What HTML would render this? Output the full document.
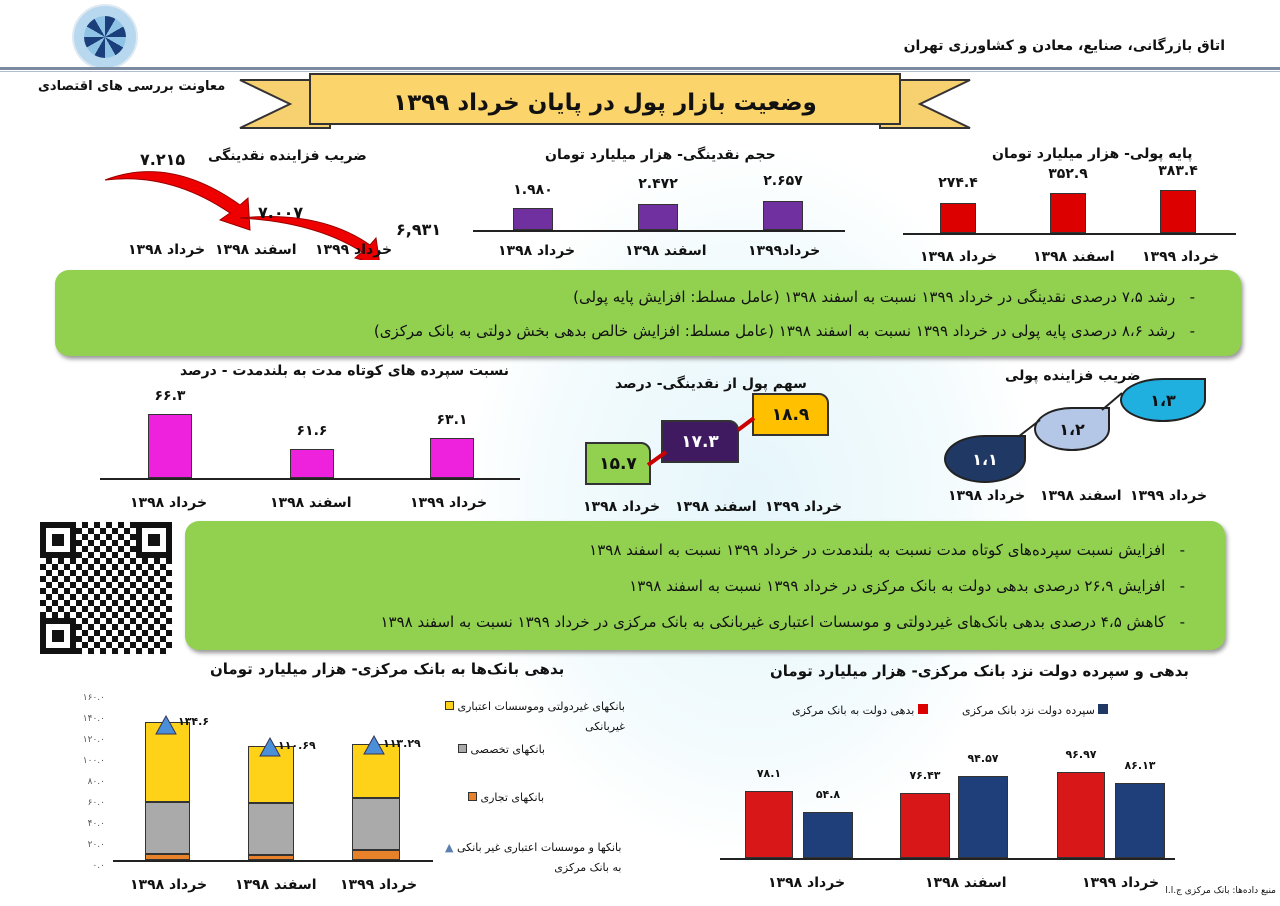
<!DOCTYPE html>
<html><head><meta charset="utf-8"><style>
*{margin:0;padding:0;box-sizing:border-box}
body{width:1280px;height:906px;background:#fff;position:relative;overflow:hidden;font-family:"DejaVu Sans","Liberation Sans",sans-serif;font-weight:bold;color:#111}
.a{position:absolute}
.t{position:absolute;white-space:nowrap;direction:rtl;font-size:14px}
.c{text-align:center}
.ax{position:absolute;height:2px;background:#222}
.bar{position:absolute;border:1px solid #333}
.green{position:absolute;background:#92d050;border-radius:14px;box-shadow:2px 3px 4px #999}
.g{font-size:15px;font-weight:normal;color:#111}
.drop{position:absolute;border:2px solid #222;border-radius:50% 0 50% 50%;color:#fff;font-size:16px;display:flex;align-items:center;justify-content:center}
.box{position:absolute;border:2px solid #333;border-radius:0 10px 0 0;display:flex;align-items:center;justify-content:center;font-size:17px}
</style></head><body>
<div class="a" style="left:470px;top:150px;width:560px;height:700px;background:radial-gradient(ellipse at center,#e6f6fb 0%,#f3fbfd 50%,#fff 72%)"></div>
<div class="a" style="left:72px;top:4px;width:66px;height:66px;border-radius:50%;background:#b8d8ef;border:2px solid #dfe9f2"></div>
<div class="a" style="left:84px;top:16px;width:42px;height:42px;border-radius:50%;background:conic-gradient(#1b3f7a 0 30deg,#8fc3e6 30deg 60deg,#1b3f7a 60deg 90deg,#8fc3e6 90deg 120deg,#1b3f7a 120deg 150deg,#8fc3e6 150deg 180deg,#1b3f7a 180deg 210deg,#8fc3e6 210deg 240deg,#1b3f7a 240deg 270deg,#8fc3e6 270deg 300deg,#1b3f7a 300deg 330deg,#8fc3e6 330deg 360deg)"></div>
<div class="t" style="right:55px;top:38px;font-size:14px">اتاق بازرگانی، صنایع، معادن و کشاورزی تهران</div>
<div class="a" style="left:0;top:67px;width:1280px;height:3px;background:#7a8aa0"></div>
<div class="a" style="left:0;top:71px;width:1280px;height:1px;background:#b0bccc"></div>
<div class="t" style="left:38px;top:79px;font-size:13px">معاونت بررسی های اقتصادی</div>
<svg class="a" style="left:230px;top:70px" width="750" height="70">
<polygon points="10,10 100,10 100,58 10,58 60,34" fill="#f7d070" stroke="#333" stroke-width="2"/>
<polygon points="740,10 650,10 650,58 740,58 690,34" fill="#f7d070" stroke="#333" stroke-width="2"/>
<rect x="80" y="4" width="590" height="50" fill="#fbd46b" stroke="#333" stroke-width="2"/>
</svg>
<div class="t c" style="left:310px;top:90px;width:590px;font-size:23px">وضعیت بازار پول در پایان خرداد ۱۳۹۹</div>

<div class="t" style="left:208px;top:148px">ضریب فزاینده نقدینگی</div>
<svg class="a" style="left:100px;top:150px" width="300" height="110">
<path d="M5 30 Q70 5 140 55 L148 48 L150 80 L120 70 L130 63 Q70 22 5 30Z" fill="#e00" stroke="#900"/>
<path d="M140 68 Q220 60 270 95 L276 88 L280 115 L255 108 L262 102 Q215 72 140 68Z" fill="#e00" stroke="#900"/>
</svg>
<div class="t" style="left:140px;top:150px;font-size:16px">۷.۲۱۵</div>
<div class="t" style="left:258px;top:203px;font-size:16px">۷.۰۰۷</div>
<div class="t" style="left:396px;top:220px;font-size:16px">۶,۹۳۱</div>
<div class="t" style="left:128px;top:242px">خرداد ۱۳۹۸</div>
<div class="t" style="left:215px;top:242px">اسفند ۱۳۹۸</div>
<div class="t" style="left:315px;top:242px">خرداد ۱۳۹۹</div>

<div class="t" style="left:545px;top:147px">حجم نقدینگی- هزار میلیارد تومان</div>
<div class="ax" style="left:473px;top:230px;width:372px"></div>
<div class="bar" style="left:513px;top:208px;width:40px;height:22px;background:#7030a0"></div>
<div class="bar" style="left:638px;top:204px;width:40px;height:26px;background:#7030a0"></div>
<div class="bar" style="left:763px;top:201px;width:40px;height:29px;background:#7030a0"></div>
<div class="t c" style="left:503px;top:182px;width:60px">۱.۹۸۰</div>
<div class="t c" style="left:628px;top:176px;width:60px">۲.۴۷۲</div>
<div class="t c" style="left:753px;top:173px;width:60px">۲.۶۵۷</div>
<div class="t" style="left:498px;top:243px">خرداد ۱۳۹۸</div>
<div class="t" style="left:625px;top:243px">اسفند ۱۳۹۸</div>
<div class="t" style="left:748px;top:243px">خرداد۱۳۹۹</div>

<div class="t" style="left:992px;top:146px">پایه پولی- هزار میلیارد تومان</div>
<div class="ax" style="left:903px;top:233px;width:333px"></div>
<div class="bar" style="left:940px;top:203px;width:36px;height:30px;background:#d00"></div>
<div class="bar" style="left:1050px;top:193px;width:36px;height:40px;background:#d00"></div>
<div class="bar" style="left:1160px;top:190px;width:36px;height:43px;background:#d00"></div>
<div class="t c" style="left:928px;top:175px;width:60px">۲۷۴.۴</div>
<div class="t c" style="left:1038px;top:166px;width:60px">۳۵۲.۹</div>
<div class="t c" style="left:1148px;top:163px;width:60px">۳۸۳.۴</div>
<div class="t" style="left:920px;top:249px">خرداد ۱۳۹۸</div>
<div class="t" style="left:1033px;top:249px">اسفند ۱۳۹۸</div>
<div class="t" style="left:1142px;top:249px">خرداد ۱۳۹۹</div>

<div class="green" style="left:55px;top:270px;width:1186px;height:86px"></div>
<div class="t g" style="left:540px;top:288px;width:655px">-&nbsp;&nbsp; رشد ۷،۵ درصدی نقدینگی در خرداد ۱۳۹۹ نسبت به اسفند ۱۳۹۸ (عامل مسلط: افزایش پایه پولی)</div>
<div class="t g" style="left:340px;top:322px;width:855px">-&nbsp;&nbsp; رشد ۸،۶ درصدی پایه پولی در خرداد ۱۳۹۹ نسبت به اسفند ۱۳۹۸ (عامل مسلط: افزایش خالص بدهی بخش دولتی به بانک مرکزی)</div>

<div class="t" style="left:180px;top:363px">نسبت سپرده های کوتاه مدت به بلندمدت - درصد</div>
<div class="ax" style="left:100px;top:478px;width:420px"></div>
<div class="bar" style="left:148px;top:414px;width:44px;height:64px;background:#ee22dd"></div>
<div class="bar" style="left:290px;top:449px;width:44px;height:29px;background:#ee22dd"></div>
<div class="bar" style="left:430px;top:438px;width:44px;height:40px;background:#ee22dd"></div>
<div class="t c" style="left:140px;top:388px;width:60px">۶۶.۳</div>
<div class="t c" style="left:282px;top:423px;width:60px">۶۱.۶</div>
<div class="t c" style="left:422px;top:412px;width:60px">۶۳.۱</div>
<div class="t" style="left:130px;top:495px">خرداد ۱۳۹۸</div>
<div class="t" style="left:270px;top:495px">اسفند ۱۳۹۸</div>
<div class="t" style="left:410px;top:495px">خرداد ۱۳۹۹</div>

<div class="t" style="left:615px;top:376px">سهم پول از نقدینگی- درصد</div>
<div class="box" style="left:585px;top:442px;width:66px;height:43px;background:#92d050">۱۵.۷</div>
<div class="box" style="left:661px;top:420px;width:78px;height:43px;background:#3f1a60;color:#fff">۱۷.۳</div>
<div class="box" style="left:752px;top:393px;width:77px;height:43px;background:#ffc000">۱۸.۹</div>
<svg class="a" style="left:640px;top:400px" width="120" height="70"><line x1="8" y1="65" x2="26" y2="52" stroke="#c00" stroke-width="4"/><line x1="98" y1="30" x2="114" y2="18" stroke="#c00" stroke-width="4"/></svg>
<div class="t" style="left:583px;top:499px">خرداد ۱۳۹۸</div>
<div class="t" style="left:675px;top:499px">اسفند ۱۳۹۸</div>
<div class="t" style="left:765px;top:499px">خرداد ۱۳۹۹</div>

<div class="t" style="left:1005px;top:368px">ضریب فزاینده پولی</div>
<div class="drop" style="left:944px;top:435px;width:82px;height:48px;background:#1f3864">۱،۱</div>
<div class="drop" style="left:1034px;top:407px;width:76px;height:44px;background:#b4c7e7;color:#111">۱،۲</div>
<div class="drop" style="left:1120px;top:378px;width:86px;height:44px;background:#1fb0e0;color:#111">۱،۳</div>
<svg class="a" style="left:1010px;top:385px" width="120" height="60"><line x1="8" y1="52" x2="30" y2="35" stroke="#222" stroke-width="2"/><line x1="92" y1="25" x2="112" y2="8" stroke="#222" stroke-width="2"/></svg>
<div class="t" style="left:948px;top:488px">خرداد ۱۳۹۸</div>
<div class="t" style="left:1040px;top:488px">اسفند ۱۳۹۸</div>
<div class="t" style="left:1130px;top:488px">خرداد ۱۳۹۹</div>

<div class="a" style="left:40px;top:522px;width:132px;height:132px;background:repeating-conic-gradient(#111 0 25%,#fff 0 50%) 0 0/12px 12px"></div>
<div class="a" style="left:40px;top:522px;width:36px;height:36px;border:6px solid #111;background:#fff;box-shadow:inset 0 0 0 6px #fff,inset 0 0 0 20px #111"></div>
<div class="a" style="left:136px;top:522px;width:36px;height:36px;border:6px solid #111;background:#fff;box-shadow:inset 0 0 0 6px #fff,inset 0 0 0 20px #111"></div>
<div class="a" style="left:40px;top:618px;width:36px;height:36px;border:6px solid #111;background:#fff;box-shadow:inset 0 0 0 6px #fff,inset 0 0 0 20px #111"></div>

<div class="green" style="left:185px;top:521px;width:1040px;height:129px"></div>
<div class="t g" style="left:565px;top:541px;width:620px">-&nbsp;&nbsp; افزایش نسبت سپرده‌های کوتاه مدت نسبت به بلندمدت در خرداد ۱۳۹۹ نسبت به اسفند ۱۳۹۸</div>
<div class="t g" style="left:590px;top:577px;width:595px">-&nbsp;&nbsp; افزایش ۲۶،۹ درصدی بدهی دولت به بانک مرکزی در خرداد ۱۳۹۹ نسبت به اسفند ۱۳۹۸</div>
<div class="t g" style="left:335px;top:613px;width:850px">-&nbsp;&nbsp; کاهش ۴،۵ درصدی بدهی بانک‌های غیردولتی و موسسات اعتباری غیربانکی به بانک مرکزی در خرداد ۱۳۹۹ نسبت به اسفند ۱۳۹۸</div>

<div class="t" style="left:210px;top:660px;font-size:15px">بدهی بانک‌ها به بانک مرکزی- هزار میلیارد تومان</div>
<div class="a" style="left:55px;top:688px;width:50px;font-size:9px;font-weight:normal;color:#555;line-height:21px;text-align:right;direction:ltr">۱۶۰.۰<br>۱۴۰.۰<br>۱۲۰.۰<br>۱۰۰.۰<br>۸۰.۰<br>۶۰.۰<br>۴۰.۰<br>۲۰.۰<br>۰.۰</div>
<div class="ax" style="left:113px;top:860px;width:320px"></div>
<div class="bar" style="left:145px;top:722px;width:45px;height:80px;background:#ffd21a"></div>
<div class="bar" style="left:145px;top:802px;width:45px;height:52px;background:#aaa"></div>
<div class="bar" style="left:145px;top:854px;width:45px;height:6px;background:#e8822a"></div>
<div class="bar" style="left:248px;top:746px;width:46px;height:57px;background:#ffd21a"></div>
<div class="bar" style="left:248px;top:803px;width:46px;height:52px;background:#aaa"></div>
<div class="bar" style="left:248px;top:855px;width:46px;height:5px;background:#e8822a"></div>
<div class="bar" style="left:352px;top:744px;width:48px;height:54px;background:#ffd21a"></div>
<div class="bar" style="left:352px;top:798px;width:48px;height:52px;background:#aaa"></div>
<div class="bar" style="left:352px;top:850px;width:48px;height:10px;background:#e8822a"></div>
<svg class="a" style="left:140px;top:710px" width="270" height="50"><polygon points="26,6 16,24 36,24" fill="#4a8fd8" stroke="#335"/><polygon points="130,28 120,46 140,46" fill="#4a8fd8" stroke="#335"/><polygon points="234,26 224,44 244,44" fill="#4a8fd8" stroke="#335"/></svg>
<div class="t" style="left:178px;top:715px;font-size:11px">۱۳۴.۶</div>
<div class="t" style="left:278px;top:739px;font-size:11px">۱۱۰.۶۹</div>
<div class="t" style="left:383px;top:737px;font-size:11px">۱۱۳.۲۹</div>
<div class="t" style="left:130px;top:877px">خرداد ۱۳۹۸</div>
<div class="t" style="left:235px;top:877px">اسفند ۱۳۹۸</div>
<div class="t" style="left:340px;top:877px">خرداد ۱۳۹۹</div>
<div class="t" style="left:445px;top:697px;font-size:11px;font-weight:normal;line-height:20px;text-align:right">بانکهای غیردولتی وموسسات اعتباری <span style="display:inline-block;width:9px;height:9px;background:#ffd21a;border:1px solid #333"></span><br>غیربانکی</div>
<div class="t" style="left:458px;top:743px;font-size:11px;font-weight:normal">بانکهای تخصصی <span style="display:inline-block;width:9px;height:9px;background:#aaa;border:1px solid #333"></span></div>
<div class="t" style="left:468px;top:791px;font-size:11px;font-weight:normal">بانکهای تجاری <span style="display:inline-block;width:9px;height:9px;background:#e8822a;border:1px solid #333"></span></div>
<div class="t" style="left:445px;top:838px;font-size:11px;font-weight:normal;line-height:20px;text-align:right">بانکها و موسسات اعتباری غیر بانکی <span style="color:#5b7fb0">▲</span><br>به بانک مرکزی</div>

<div class="t" style="left:770px;top:662px;font-size:15px">بدهی و سپرده دولت نزد بانک مرکزی- هزار میلیارد تومان</div>
<div class="t" style="left:792px;top:704px;font-size:11px;font-weight:normal"><span style="display:inline-block;width:10px;height:10px;background:#d00"></span> بدهی دولت به بانک مرکزی</div>
<div class="t" style="left:962px;top:704px;font-size:11px;font-weight:normal"><span style="display:inline-block;width:10px;height:10px;background:#1f3864"></span> سپرده دولت نزد بانک مرکزی</div>
<div class="ax" style="left:720px;top:858px;width:455px"></div>
<div class="bar" style="left:745px;top:791px;width:48px;height:67px;background:#d81818"></div>
<div class="bar" style="left:803px;top:812px;width:50px;height:46px;background:#1f3f7a"></div>
<div class="bar" style="left:900px;top:793px;width:50px;height:65px;background:#d81818"></div>
<div class="bar" style="left:958px;top:776px;width:50px;height:82px;background:#1f3f7a"></div>
<div class="bar" style="left:1057px;top:772px;width:48px;height:86px;background:#d81818"></div>
<div class="bar" style="left:1115px;top:783px;width:50px;height:75px;background:#1f3f7a"></div>
<div class="t c" style="left:739px;top:767px;width:60px;font-size:11px">۷۸.۱</div>
<div class="t c" style="left:798px;top:788px;width:60px;font-size:11px">۵۴.۸</div>
<div class="t c" style="left:895px;top:769px;width:60px;font-size:11px">۷۶.۴۳</div>
<div class="t c" style="left:953px;top:752px;width:60px;font-size:11px">۹۴.۵۷</div>
<div class="t c" style="left:1051px;top:748px;width:60px;font-size:11px">۹۶.۹۷</div>
<div class="t c" style="left:1110px;top:759px;width:60px;font-size:11px">۸۶.۱۳</div>
<div class="t" style="left:768px;top:875px">خرداد ۱۳۹۸</div>
<div class="t" style="left:925px;top:875px">اسفند ۱۳۹۸</div>
<div class="t" style="left:1082px;top:875px">خرداد ۱۳۹۹</div>
<div class="t" style="right:4px;top:886px;font-size:9px;font-weight:normal">منبع داده‌ها: بانک مرکزی ج.ا.ا</div>
</body></html>
